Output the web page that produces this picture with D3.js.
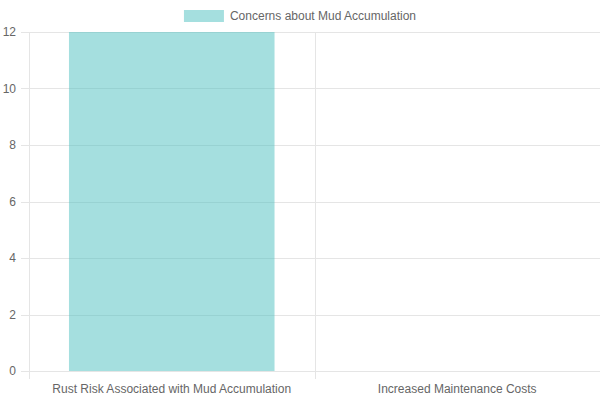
<!DOCTYPE html>
<html>
<head>
<meta charset="utf-8">
<script src="https://cdn.jsdelivr.net/npm/d3@7"></script>
<style>
  body { margin: 0; background: #fff; }
  text { font-family: "Liberation Sans", Arial, Helvetica, sans-serif; font-size: 12px; fill: #666; }
</style>
</head>
<body>
<div id="graf"></div>
<script>
const categorias = ['Rust Risk Associated with Mud Accumulation', 'Increased Maintenance Costs']
const valores = [12, 0]
const serie = 'Concerns about Mud Accumulation'
const ticksY = [0, 2, 4, 6, 8, 10, 12]

const anchoTotal = 600
const altoTotal = 400
const margin = { top: 32, bottom: 29, left: 29, right: 0 }
const ancho = anchoTotal - margin.left - margin.right
const alto = altoTotal - margin.top - margin.bottom

const rejilla = '#e5e5e5'
const relleno = 'rgba(75, 192, 192, 0.5)'

const svg = d3.select('#graf')
  .append('svg')
  .attr('width', anchoTotal)
  .attr('height', altoTotal)

const g = svg.append('g')
  .attr('transform', `translate(${margin.left}, ${margin.top})`)

const x = d3.scaleBand().domain(categorias).range([0, ancho]).paddingInner(0.28).paddingOuter(0.14)
const xCelda = d3.scaleBand().domain(categorias).range([0, ancho])
const y = d3.scaleLinear().domain([0, 12]).range([alto, 0])

// lineas horizontales
g.selectAll('.gy')
  .data(ticksY)
  .join('line')
  .attr('x1', -8)
  .attr('x2', ancho)
  .attr('y1', (d) => Math.round(y(d)) + 0.5)
  .attr('y2', (d) => Math.round(y(d)) + 0.5)
  .attr('stroke', rejilla)

// lineas verticales en los bordes de categoria
const bordes = categorias.map((c) => xCelda(c)).concat([ancho])
g.selectAll('.gx')
  .data(bordes)
  .join('line')
  .attr('x1', (d) => Math.round(d) + 0.5)
  .attr('x2', (d) => Math.round(d) + 0.5)
  .attr('y1', 0)
  .attr('y2', alto + 8)
  .attr('stroke', rejilla)

g.selectAll('.ty')
  .data(ticksY)
  .join('text')
  .attr('x', -13)
  .attr('y', (d) => y(d))
  .attr('dy', '0.35em')
  .attr('text-anchor', 'end')
  .text((d) => d)

g.selectAll('rect.barra')
  .data(valores)
  .join('rect')
  .attr('class', 'barra')
  .attr('x', (d, i) => x(categorias[i]))
  .attr('y', (d) => y(d))
  .attr('width', x.bandwidth())
  .attr('height', (d) => alto - y(d))
  .attr('fill', relleno)

g.selectAll('.tx')
  .data(categorias)
  .join('text')
  .attr('x', (d) => xCelda(d) + xCelda.bandwidth() / 2)
  .attr('y', alto + 18)
  .attr('dy', '0.35em')
  .attr('text-anchor', 'middle')
  .text((d) => d)

// leyenda
const ley = svg.append('g')
const caja = ley.append('rect')
  .attr('y', 10)
  .attr('width', 40)
  .attr('height', 12)
  .attr('fill', relleno)
const txtLey = ley.append('text')
  .attr('y', 16)
  .attr('dy', '0.35em')
  .text(serie)
const anchoTxt = txtLey.node().getComputedTextLength()
const inicio = (anchoTotal - (40 + 6 + anchoTxt)) / 2
caja.attr('x', inicio)
txtLey.attr('x', inicio + 46)
</script>
</body>
</html>
